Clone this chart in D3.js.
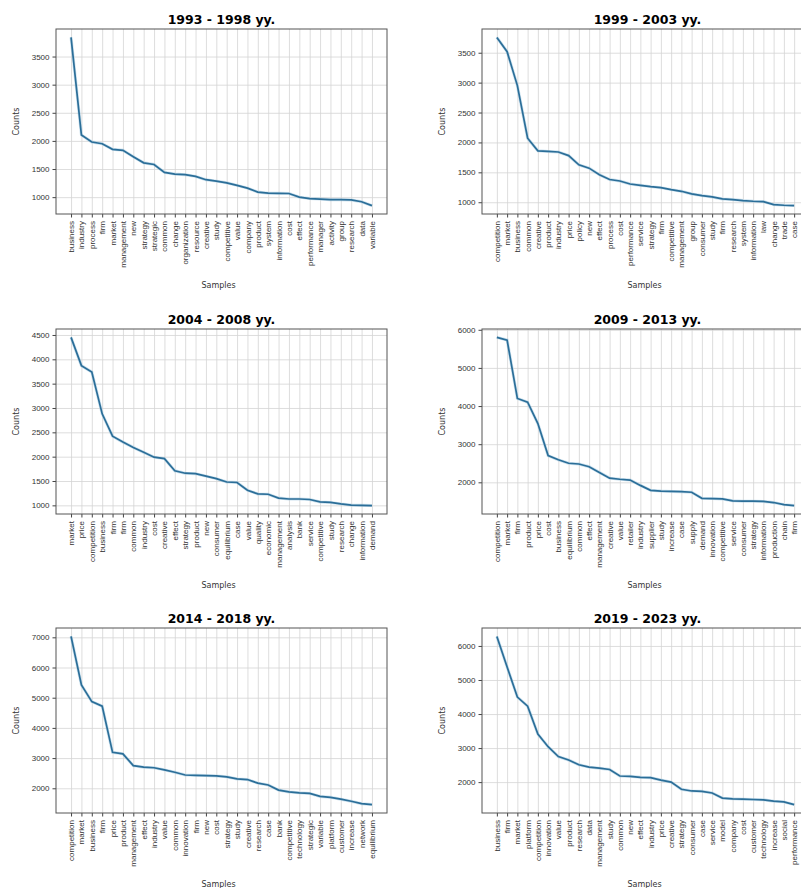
<!DOCTYPE html>
<html>
<head>
<meta charset="utf-8">
<script src="https://d3js.org/d3.v7.min.js"></script>
<style>
  body { margin: 0; background: #fff; }
  svg { display: block; font-family: "DejaVu Sans", sans-serif; }
  .title { font-weight: bold; font-size: 12.5px; fill: #000; }
  .lab { font-size: 8px; fill: #333; }
  .tick text { font-size: 8px; fill: #333; }
</style>
</head>
<body>
<svg id="chart" width="801" height="888"></svg>
<script>
// word frequency by period
const titles = ['1993 - 1998 yy.', '1999 - 2003 yy.', '2004 - 2008 yy.', '2009 - 2013 yy.', '2014 - 2018 yy.', '2019 - 2023 yy.'];

const words1993 = ['business','industry','process','firm','market','management','new','strategy','strategic','common','change','organization','resource','creative','study','competitive','value','company','product','system','information','cost','effect','performance','manager','activity','group','research','data','variable'];
const counts1993 = [3840,2105,1980,1950,1850,1833,1720,1610,1580,1440,1410,1400,1370,1310,1285,1255,1210,1160,1090,1070,1068,1065,1000,975,965,955,955,950,918,850];

const words1999 = ['competition','market','business','common','creative','product','industry','price','policy','new','effect','process','cost','performance','service','strategy','firm','competitive','management','group','consumer','study','firm','research','system','information','law','change','trade','case'];
const counts1999 = [3756,3517,2950,2070,1860,1850,1840,1780,1625,1570,1460,1380,1355,1305,1283,1261,1244,1211,1183,1139,1111,1089,1055,1044,1028,1017,1011,961,950,944];

const words2004 = ['market','price','competition','business','firm','firm','common','industry','cost','creative','effect','strategy','product','new','consumer','equilibrium','case','value','quality','economic','management','analysis','bank','service','competitive','study','research','change','information','demand'];
const counts2004 = [4450,3870,3740,2880,2420,2300,2190,2090,1990,1960,1710,1660,1650,1600,1550,1480,1470,1310,1235,1228,1150,1130,1130,1120,1070,1060,1030,1005,1000,995];

const words2009 = ['competition','market','firm','product','price','cost','business','equilibrium','common','effect','management','creative','value','retailer','industry','supplier','study','increase','case','supply','demand','innovation','competitive','service','consumer','strategy','information','production','chain','firm'];
const counts2009 = [5800,5730,4200,4100,3540,2700,2590,2500,2480,2410,2260,2110,2080,2060,1920,1790,1770,1762,1755,1740,1580,1575,1565,1515,1505,1505,1500,1470,1415,1390];

const words2014 = ['competition','market','business','firm','price','product','management','effect','industry','value','common','innovation','firm','new','cost','strategy','study','creative','research','case','bank','competitive','technology','strategic','variable','platform','customer','increase','network','equilibrium'];
const counts2014 = [7030,5420,4870,4720,3190,3140,2750,2700,2680,2610,2530,2440,2430,2420,2410,2380,2310,2290,2170,2110,1940,1880,1850,1830,1730,1700,1640,1570,1490,1460];

const words2019 = ['business','firm','market','platform','competition','innovation','value','product','research','data','management','study','common','new','effect','industry','price','creative','strategy','consumer','case','service','model','company','cost','customer','technology','increase','social','performance'];
const counts2019 = [6280,5380,4500,4230,3410,3040,2750,2650,2510,2440,2410,2370,2180,2170,2140,2130,2060,2000,1790,1740,1730,1680,1530,1510,1500,1490,1480,1440,1420,1340];

const yTicks1 = [1000,1500,2000,2500,3000,3500];
const yTicks2 = [1000,1500,2000,2500,3000,3500];
const yTicks3 = [1000,1500,2000,2500,3000,3500,4000,4500];
const yTicks4 = [2000,3000,4000,5000,6000];
const yTicks5 = [2000,3000,4000,5000,6000,7000];
const yTicks6 = [2000,3000,4000,5000,6000];

const panels = [
  {words: words1993, counts: counts1993, ticks: yTicks1, col: 0, row: 0},
  {words: words1999, counts: counts1999, ticks: yTicks2, col: 1, row: 0},
  {words: words2004, counts: counts2004, ticks: yTicks3, col: 0, row: 1},
  {words: words2009, counts: counts2009, ticks: yTicks4, col: 1, row: 1},
  {words: words2014, counts: counts2014, ticks: yTicks5, col: 0, row: 2},
  {words: words2019, counts: counts2019, ticks: yTicks6, col: 1, row: 2}
];

const svg = d3.select('#chart');
svg.append('rect').attr('width', 801).attr('height', 888).attr('fill', '#fff');

const colX = [56, 482], rowY = [29, 329, 628];
const colW = [331, 327], h = 185;

panels.forEach(function(p, k) {
  const n = p.words.length;
  const w = colW[p.col];
  const g = svg.append('g').attr('transform', 'translate(' + colX[p.col] + ',' + rowY[p.row] + ')');

  // matplotlib-like 5% margins
  const mx = (n - 1) * 0.05;
  const x = d3.scaleLinear().domain([-mx, n - 1 + mx]).range([0, w]);
  const lo = d3.min(p.counts), hi = d3.max(p.counts), pad = (hi - lo) * 0.05;
  const y = d3.scaleLinear().domain([lo - pad, hi + pad]).range([h, 0]);

  // grid
  g.append('g').attr('transform', 'translate(0,' + h + ')')
    .call(d3.axisBottom(x).tickValues(d3.range(n)).tickSize(-h).tickFormat(''))
    .call(a => a.select('.domain').remove())
    .selectAll('line').attr('stroke', '#d4d4d4').attr('stroke-width', 0.8);
  g.append('g')
    .call(d3.axisLeft(y).tickValues(p.ticks).tickSize(-w).tickFormat(''))
    .call(a => a.select('.domain').remove())
    .selectAll('line').attr('stroke', '#d4d4d4').attr('stroke-width', 0.8);

  // line
  g.append('path').datum(p.counts)
    .attr('fill', 'none').attr('stroke', '#9cc6e0').attr('stroke-width', 3).attr('stroke-opacity', 0.5)
    .attr('d', d3.line().x((d, i) => x(i)).y(d => y(d)));
  g.append('path').datum(p.counts)
    .attr('fill', 'none').attr('stroke', '#2b6e98').attr('stroke-width', 1.7)
    .attr('d', d3.line().x((d, i) => x(i)).y(d => y(d)));

  // axes
  const xa = g.append('g').attr('transform', 'translate(0,' + h + ')')
    .call(d3.axisBottom(x).tickValues(d3.range(n)).tickSize(3.5).tickPadding(3).tickFormat(i => p.words[i]));
  xa.select('.domain').remove();
  xa.selectAll('line').attr('stroke', '#444');
  xa.selectAll('text')
    .attr('transform', 'rotate(-90)')
    .attr('text-anchor', 'end')
    .attr('x', -7).attr('y', 0).attr('dy', '0.32em');

  const ya = g.append('g')
    .call(d3.axisLeft(y).tickValues(p.ticks).tickSize(3.5).tickPadding(3).tickFormat(d3.format('d')));
  ya.select('.domain').remove();
  ya.selectAll('line').attr('stroke', '#444');

  g.append('rect').attr('width', w + (p.col ? 6 : 0)).attr('height', h)
    .attr('fill', 'none').attr('stroke', '#555').attr('stroke-width', 1);

  g.append('text').attr('class', 'title')
    .attr('x', (p.col ? 331 : w) / 2).attr('y', -5).attr('text-anchor', 'middle')
    .text(titles[k]);
  g.append('text').attr('class', 'lab')
    .attr('transform', 'translate(-37,' + (h / 2) + ') rotate(-90)')
    .attr('text-anchor', 'middle').text('Counts');
  g.append('text').attr('class', 'lab')
    .attr('x', (p.col ? 331 : w) / 2 - 3).attr('y', h + 74).attr('text-anchor', 'middle').text('Samples');
});
</script>
</body>
</html>
